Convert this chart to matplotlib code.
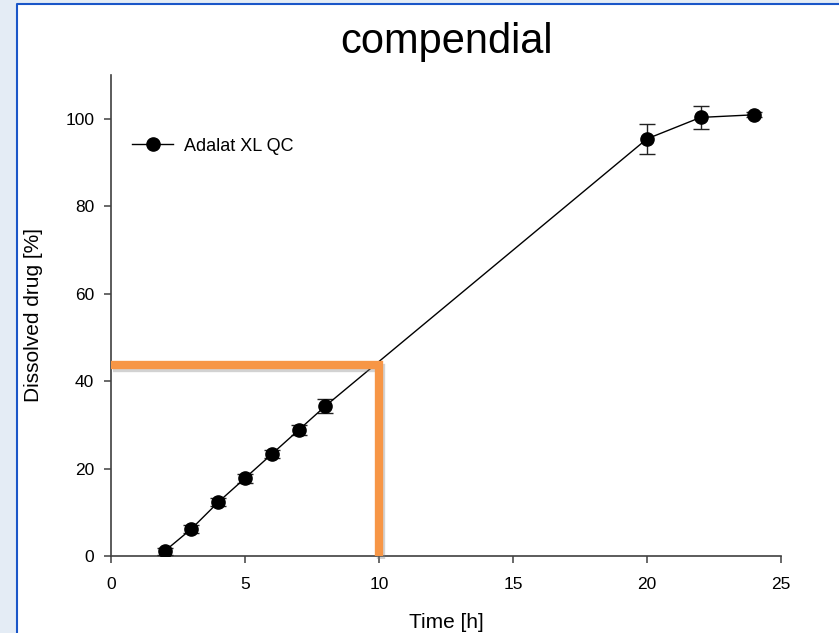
import numpy as np
import matplotlib
matplotlib.use("Agg")
import matplotlib.pyplot as plt
import matplotlib.patheffects as pe
from matplotlib.patches import Rectangle
from matplotlib.lines import Line2D

# dissolution data
time_h = [2, 3, 4, 5, 6, 7, 8, 20, 22, 24]
dissolved = [1.1, 6.2, 12.3, 17.8, 23.3, 28.8, 34.3, 95.4, 100.3, 100.9]
sd = [0.8, 0.9, 0.9, 1.0, 0.9, 1.2, 1.6, 3.4, 2.7, 0.6]
series_label = "Adalat XL QC"

# orange guide marks (time 10 h -> ~44 % dissolved)
guide_time = 10
guide_level = 43.6

plt.rcParams['font.family'] = ['Liberation Sans', 'DejaVu Sans']

fig = plt.figure(figsize=(8.39, 6.33), dpi=100)
fig.patch.set_facecolor("#e4ecf5")
W, H = 839, 633
# white panel with blue edge on left/top
fig.add_artist(Rectangle((17 / W, 0), 1 - 17 / W, (H - 4.3) / H,
                         transform=fig.transFigure, facecolor="white",
                         edgecolor="none", zorder=-10))
fig.add_artist(Line2D([17 / W, 17 / W, 1], [0, (H - 4.3) / H, (H - 4.3) / H],
                      transform=fig.transFigure, color="#1a56c8",
                      linewidth=1.5, zorder=-9))

ax = fig.add_axes([111 / W, (H - 556) / H, 670 / W, 481 / H])
ax.set_facecolor("none")

ax.errorbar(time_h, dissolved, yerr=sd,
            marker='o', markersize=9.5, color='k',
            linewidth=1.0, elinewidth=1.0, ecolor='#222222',
            capsize=5.5, capthick=1.0, zorder=3)

# L shaped guide
ax.plot([0, guide_time, guide_time], [guide_level, guide_level, 0],
        color="#f79646", linewidth=6, solid_joinstyle='miter',
        solid_capstyle='butt', clip_on=False, zorder=5,
        path_effects=[pe.SimpleLineShadow(offset=(1.5, -2), shadow_color='gray', alpha=0.35),
                      pe.Normal()])

ax.set_xlim(0, 25)
ax.set_ylim(0, 110)
ax.set_xticks([0, 5, 10, 15, 20, 25])
ax.set_yticks([0, 20, 40, 60, 80, 100])

for s in ['top', 'right']:
    ax.spines[s].set_visible(False)
for s in ['left', 'bottom']:
    ax.spines[s].set_color('#404040')
    ax.spines[s].set_linewidth(1.2)
ax.tick_params(axis='both', direction='out', length=5, width=1.1,
               color='#404040', labelsize=12.5)
ax.tick_params(axis='x', pad=10)
ax.tick_params(axis='y', pad=7)

ax.set_xlabel("Time [h]", fontsize=15, labelpad=15)
ax.set_ylabel("Dissolved drug [%]", fontsize=15, labelpad=16)
ax.set_title("compendial", fontsize=30, pad=16)

handle = Line2D([], [], color='k', linewidth=1.0, marker='o', markersize=9.5)
ax.legend([handle], [series_label], loc='upper left', bbox_to_anchor=(0.031, 0.870),
          frameon=False, borderpad=0, borderaxespad=0, handlelength=2.3,
          handletextpad=0.6, fontsize=13)

fig.savefig("out.png", dpi=100, facecolor=fig.get_facecolor())
